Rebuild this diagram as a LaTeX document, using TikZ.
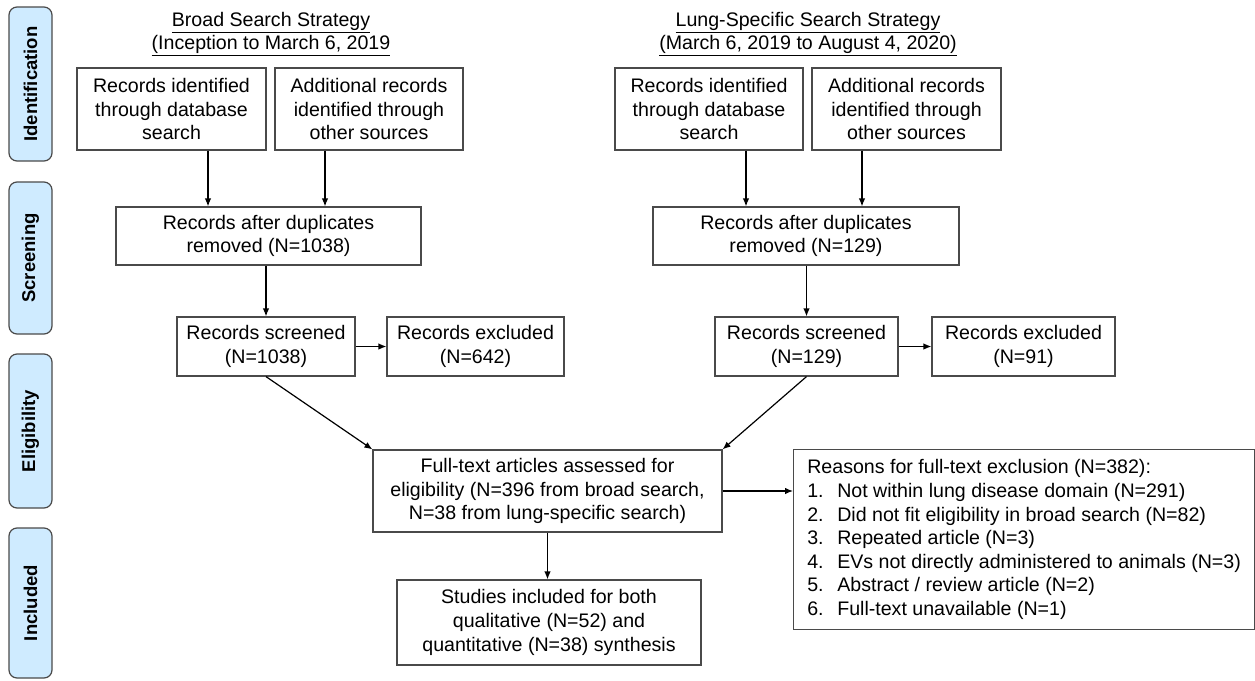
\documentclass[tikz,border=0pt]{standalone}
\usepackage{fontspec}
\setmainfont{Liberation Sans}
\usetikzlibrary{arrows.meta,calc}
\definecolor{phasefill}{HTML}{CFEBFF}
\definecolor{boxline}{HTML}{4A4A4A}
\tikzset{
  box/.style={draw=boxline, line width=1.2pt, fill=white, inner sep=0pt, align=center,
    font=\fontsize{19.6pt}{23.6pt}\selectfont},
  phase/.style={draw=boxline, line width=1.2pt, fill=phasefill, rounded corners=8pt,
    inner sep=0pt, rotate=90, font=\fontsize{18.5pt}{22pt}\selectfont\bfseries},
  conn/.style={-{Latex[length=8pt,width=6.5pt]}, line width=1.2pt, black},
  ttl/.style={align=center, inner sep=0pt, font=\fontsize{19.6pt}{23pt}\selectfont},
}
\begin{document}
\begin{tikzpicture}[x=1pt,y=-1pt]
\useasboundingbox (0,0) rectangle (1255,680);
% phase bars
\node[phase, minimum width=154, minimum height=43] (P1) at (30.5,84) {Identification};
\node[phase, minimum width=152, minimum height=43] (P2) at (30.5,258) {Screening};
\node[phase, minimum width=154, minimum height=43] (P3) at (30.5,431) {Eligibility};
\node[phase, minimum width=150, minimum height=43] (P4) at (30.5,603) {Included};
% titles
\node[ttl] (Lt) at (271,34) {\underline{Broad Search Strategy}\\\underline{(Inception to March 6, 2019}};
\node[ttl] (Rt) at (808,34) {\underline{Lung-Specific Search Strategy}\\\underline{(March 6, 2019 to August 4, 2020)}};
% left branch
\node[box, minimum width=189, minimum height=82] (Ldb) at (171.5,109) {Records identified\\through database\\search};
\node[box, minimum width=188, minimum height=82] (Loth) at (369,109) {Additional records\\identified through\\other sources};
\node[box, minimum width=305, minimum height=58] (Ldup) at (268.5,236) {Records after duplicates\\removed (N=1038)};
\node[box, minimum width=178, minimum height=59] (Lscr) at (266,346.5) {Records screened\\(N=1038)};
\node[box, minimum width=177, minimum height=59] (Lexc) at (475.5,346.5) {Records excluded\\(N=642)};
% right branch
\node[box, minimum width=188, minimum height=82] (Rdb) at (709,109) {Records identified\\through database\\search};
\node[box, minimum width=189, minimum height=82] (Roth) at (906.5,109) {Additional records\\identified through\\other sources};
\node[box, minimum width=306, minimum height=58] (Rdup) at (806,236) {Records after duplicates\\removed (N=129)};
\node[box, minimum width=183, minimum height=59] (Rscr) at (806.5,346.5) {Records screened\\(N=129)};
\node[box, minimum width=183, minimum height=59] (Rexc) at (1023.5,346.5) {Records excluded\\(N=91)};
% merged
\node[box, minimum width=349, minimum height=82] (Full) at (547.5,491) {Full-text articles assessed for\\eligibility (N=396 from broad search,\\N=38 from lung-specific search)};
\node[box, minimum width=304, minimum height=85] (Stud) at (549,622.5) {Studies included for both\\qualitative (N=52) and\\quantitative (N=38) synthesis};
\node[box, anchor=north west, minimum width=461, minimum height=180, align=left,
  inner xsep=11pt] (Reas) at (793,449) {%
Reasons for full-text exclusion (N=382):\\
\makebox[30pt][l]{1.}Not within lung disease domain (N=291)\\
\makebox[30pt][l]{2.}Did not fit eligibility in broad search (N=82)\\
\makebox[30pt][l]{3.}Repeated article (N=3)\\
\makebox[30pt][l]{4.}EVs not directly administered to animals (N=3)\\
\makebox[30pt][l]{5.}Abstract / review article (N=2)\\
\makebox[30pt][l]{6.}Full-text unavailable (N=1)};
% arrow x positions
\coordinate (la) at (208,0);
\coordinate (lb) at (325,0);
\coordinate (ra) at (746,0);
\coordinate (rb) at (862,0);
% connectors
\draw[conn] (Ldb.south -| la) -- (Ldup.north -| la);
\draw[conn] (Loth.south -| lb) -- (Ldup.north -| lb);
\draw[conn] (Rdb.south -| ra) -- (Rdup.north -| ra);
\draw[conn] (Roth.south -| rb) -- (Rdup.north -| rb);
\draw[conn] (Ldup.south -| Lscr.north) -- (Lscr.north);
\draw[conn] (Rdup.south -| Rscr.north) -- (Rscr.north);
\draw[conn] (Lscr.east) -- (Lexc.west);
\draw[conn] (Rscr.east) -- (Rexc.west);
\draw[conn] (Lscr.south) -- (Full.north west);
\draw[conn] (Rscr.south) -- (Full.north east);
\draw[conn] (Full.south) -- (Stud.north -| Full.south);
\draw[conn] (Full.east) -- (Full.east -| Reas.west);
\end{tikzpicture}
\end{document}
